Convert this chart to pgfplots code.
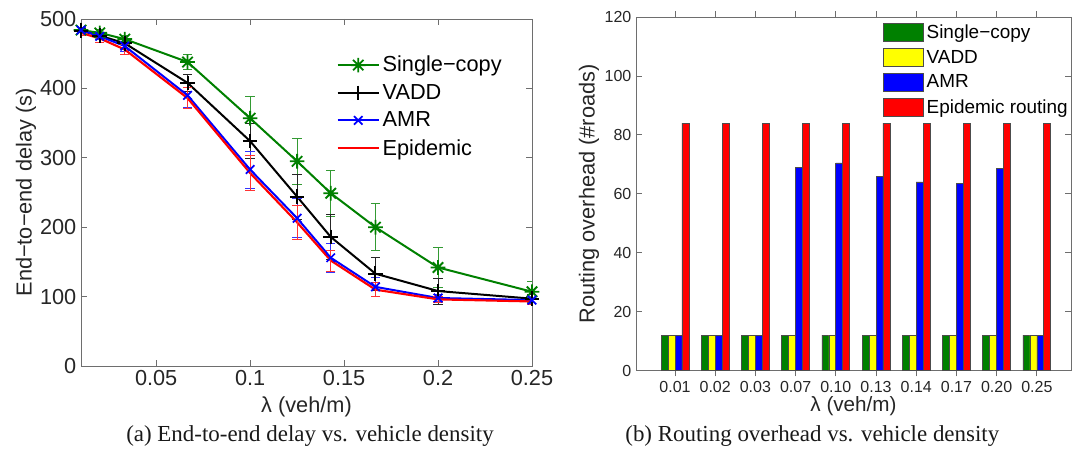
\documentclass[border=0pt]{standalone}
\usepackage{pgfplots}
\pgfplotsset{compat=1.18}
\usepackage{pgfplotstable}
\usepackage{fontspec}
\setmainfont{Liberation Sans}
\newfontfamily\serifcap{Liberation Serif}

\definecolor{mgreen}{RGB}{0,128,0}
\definecolor{mblue}{RGB}{0,0,255}
\definecolor{mred}{RGB}{255,0,0}
\definecolor{myellow}{RGB}{255,255,0}
\definecolor{frame}{RGB}{110,110,110}

\pgfdeclareplotmark{mstar}{%
  \pgfpathmoveto{\pgfqpoint{-\pgfplotmarksize}{0pt}}\pgfpathlineto{\pgfqpoint{\pgfplotmarksize}{0pt}}%
  \pgfpathmoveto{\pgfqpoint{0pt}{-\pgfplotmarksize}}\pgfpathlineto{\pgfqpoint{0pt}{\pgfplotmarksize}}%
  \pgfpathmoveto{\pgfqpoint{-0.707\pgfplotmarksize}{-0.707\pgfplotmarksize}}\pgfpathlineto{\pgfqpoint{0.707\pgfplotmarksize}{0.707\pgfplotmarksize}}%
  \pgfpathmoveto{\pgfqpoint{-0.707\pgfplotmarksize}{0.707\pgfplotmarksize}}\pgfpathlineto{\pgfqpoint{0.707\pgfplotmarksize}{-0.707\pgfplotmarksize}}%
  \pgfusepathqstroke}

\pgfplotstableread{
x y e
0.01 484 4
0.02 480 5
0.0333 471 6
0.0667 438 11
0.1 357 32
0.125 295 33
0.1429 249 33
0.1667 200 34
0.2 142 29
0.25 107 15
}\single
\pgfplotstableread{
x y e
0.01 483 4
0.02 476 5
0.0333 465 7
0.0667 408 12
0.1 324 25
0.125 244 32
0.1429 186 33
0.1667 133 24
0.2 108 19
0.25 97 6
}\vadd
\pgfplotstableread{
x y e
0.01 484 4
0.02 475 5
0.0333 461 7
0.0667 390 17
0.1 283 27
0.125 213 28
0.1429 156 21
0.1667 114 14
0.2 98 5
0.25 95 4
}\amr
\pgfplotstableread{
x y e
0.01 480 4
0.02 472 5
0.0333 456 7
0.0667 386 15
0.1 278 25
0.125 207 25
0.1429 152 15
0.1667 110 10
0.2 96 4
0.25 93 4
}\epid

\pgfplotstableread{
i sc vadd amr epi
1 12 12 12 84
2 12 12 12 84
3 12 12 12 84
4 12 12 69 84
5 12 12 70.5 84
6 12 12 66 84
7 12 12 64 84
8 12 12 63.5 84
9 12 12 68.5 84
10 12 12 12 84
}\bars

\begin{document}
\begin{tikzpicture}
\path[use as bounding box] (0pt,0pt) rectangle (804.75pt,342pt);

\pgfplotsset{
  mystyle/.style={
    scale only axis,
    anchor=south west,
    axis line style={frame, line width=0.6pt},
    tick style={frame, line width=0.6pt},
    tick align=inside,
    major tick length=4.5pt,
    tick label style={font=\fontsize{16.3}{19}\selectfont, text=black!85},
    label style={font=\fontsize{16.3}{19}\selectfont, text=black!85},
    xtick pos=both, ytick pos=both,
  },
  errstyle/.style={
    error bars/.cd, y dir=both, y explicit,
    error bar style={line width=0.5pt, #1},
    error mark options={line width=0.5pt, mark size=3.5pt, rotate=90, #1},
  }
}

\begin{axis}[mystyle,
  at={(60.75pt,67.5pt)},
  width=338.25pt, height=260.25pt,
  xmin=0.01, xmax=0.25, ymin=0, ymax=500,
  xtick={0.05,0.1,0.15,0.2,0.25},
  xticklabels={0.05,0.1,0.15,0.2,0.25},
  ytick={0,100,200,300,400,500},
  yticklabels={0,100,200,300,400,500},
  xlabel={λ (veh/m)},
  ylabel={End−to−end delay (s)},
  xlabel style={at={(axis description cs:0.5,-0.118)}, anchor=center},
  ylabel style={at={(axis description cs:-0.122,0.5)}, anchor=center},
  legend style={draw=none, fill=none, at={(rel axis cs:0.563,0.905)}, anchor=north west,
    font=\fontsize{16.3}{19}\selectfont, row sep=3.9pt, inner sep=1pt,
    /tikz/every even column/.append style={column sep=1pt}},
  legend cell align=left,
  legend image code/.code={\draw[mark repeat=2,mark phase=2,#1] plot coordinates {(0pt,0pt)(15.5pt,0pt)(31pt,0pt)};},
]
\addplot[mgreen, line width=1.5pt, mark=mstar, mark size=5.5pt, mark options={line width=1.4pt}, errstyle=mgreen!80]
  table[x=x,y=y,y error=e]{\single};
\addlegendentry{Single−copy}
\addplot[black, line width=1.5pt, mark=+, mark size=5.5pt, mark options={line width=1.5pt}, errstyle=black!85]
  table[x=x,y=y,y error=e]{\vadd};
\addlegendentry{VADD}
\addplot[mblue, line width=1.5pt, mark=x, mark size=4.5pt, mark options={line width=1.3pt}, errstyle=mblue!80]
  table[x=x,y=y,y error=e]{\amr};
\addlegendentry{AMR}
\addplot[mred, line width=1.6pt, mark=none, errstyle=mred!80]
  table[x=x,y=y,y error=e]{\epid};
\addlegendentry{Epidemic}
\end{axis}

\begin{axis}[mystyle,
  at={(477pt,64.125pt)},
  width=326.25pt, height=265.1pt,
  xmin=0.03, xmax=10.85, ymin=0, ymax=120,
  ybar=0pt, bar width=5.2pt,
  tick label style={font=\fontsize{12}{14}\selectfont, text=black!85},
  xtick={1,2,3,4,5,6,7,8,9,10},
  xticklabels={0.01,0.02,0.03,0.07,0.10,0.13,0.14,0.17,0.20,0.25},
  ytick={0,20,40,60,80,100,120},
  yticklabels={0,20,40,60,80,100,120},
  xlabel={λ (veh/m)},
  ylabel={Routing overhead (\#roads)},
  xlabel style={at={(axis description cs:0.5,-0.1)}, anchor=center, font=\fontsize{15.5}{18}\selectfont},
  ylabel style={at={(axis description cs:-0.108,0.5)}, anchor=center},
  legend style={draw=none, fill=none, at={(rel axis cs:0.563,0.99)}, anchor=north west,
    font=\fontsize{14.2}{17}\selectfont, row sep=3.2pt, inner sep=1pt,
    /tikz/every even column/.append style={column sep=2pt}},
  legend cell align=left,
  legend image code/.code={\draw[#1, draw=black!70, line width=0.6pt] (0pt,-6.6pt) rectangle (30.5pt,6.6pt);},
]
\addplot[fill=mgreen, draw=black!70, line width=0.5pt] table[x=i,y=sc]{\bars};
\addlegendentry{Single−copy}
\addplot[fill=myellow, draw=black!70, line width=0.5pt] table[x=i,y=vadd]{\bars};
\addlegendentry{VADD}
\addplot[fill=mblue, draw=black!70, line width=0.5pt] table[x=i,y=amr]{\bars};
\addlegendentry{AMR}
\addplot[fill=mred, draw=black!70, line width=0.5pt] table[x=i,y=epi]{\bars};
\addlegendentry{Epidemic routing}
\end{axis}

\node[font=\serifcap\fontsize{17.2}{20}\selectfont, anchor=base, text=black!90] at (232.5pt,10.5pt) {(a) End-to-end delay vs. vehicle density};
\node[font=\serifcap\fontsize{17.2}{20}\selectfont, anchor=base west, text=black!90] at (465.5pt,10.5pt) {(b) Routing overhead vs. vehicle density};
\end{tikzpicture}
\end{document}
